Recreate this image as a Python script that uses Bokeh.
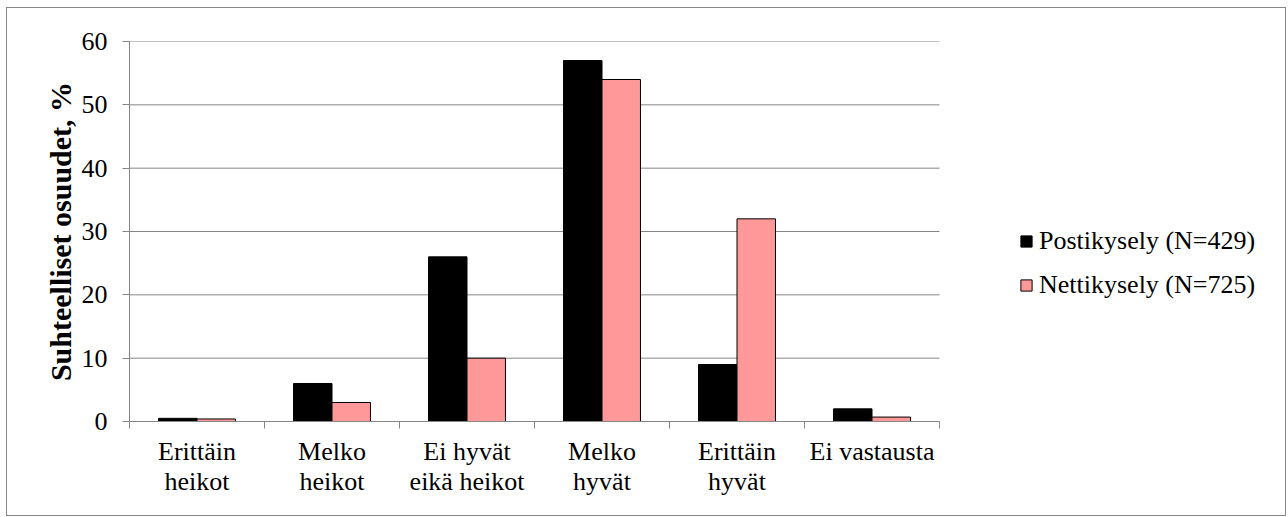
from bokeh.plotting import figure
from bokeh.models import FixedTicker, Range1d, Legend, LegendItem, ColumnDataSource
from bokeh.embed import file_html
from bokeh.resources import INLINE

categories = ["Erittäin\nheikot", "Melko\nheikot", "Ei hyvät\neikä heikot", "Melko\nhyvät", "Erittäin\nhyvät", "Ei vastausta"]
posti = [0.5, 6, 26, 57, 9, 2]
netti = [0.4, 3, 10, 54, 32, 0.7]
series_names = ["Postikysely (N=429)", "Nettikysely (N=725)"]
yticks = [0, 10, 20, 30, 40, 50, 60]

FONT = "Liberation Serif"
GRID = "#868686"

n = len(categories)
centers = [i + 0.5 for i in range(n)]
bw = 0.285

W, H = 1280, 509
LEFT, TOP, BOTTOM = 122, 33, 96
frame_w = W - LEFT
px_per_cat = 135.0
x_end = frame_w / px_per_cat

p = figure(width=W, height=H, output_backend="svg", toolbar_location=None,
           x_range=Range1d(0, x_end), y_range=Range1d(0, 60),
           min_border_left=LEFT, min_border_right=0, min_border_top=TOP, min_border_bottom=BOTTOM)
p.styles = {"border": "1px solid #888888", "margin-left": "6px", "margin-top": "7px"}
p.outline_line_color = None
p.background_fill_color = "white"
p.xgrid.grid_line_color = None
p.ygrid.grid_line_color = None

# horizontal gridlines limited to the category area
p.segment(x0=[0] * len(yticks), x1=[n] * len(yticks), y0=yticks, y1=yticks,
          line_color=GRID, line_width=1)

src1 = ColumnDataSource(dict(x=[c - bw / 2 for c in centers], top=posti))
src2 = ColumnDataSource(dict(x=[c + bw / 2 for c in centers], top=netti))
r1 = p.vbar(x="x", top="top", bottom=0, width=bw, source=src1, fill_color="black", line_color="black", line_width=1)
r2 = p.vbar(x="x", top="top", bottom=0, width=bw, source=src2, fill_color="#FF9999", line_color="black", line_width=1)

# x axis
xa = p.xaxis[0]
xa.bounds = (0, n)
xa.ticker = FixedTicker(ticks=centers, minor_ticks=list(range(n + 1)))
xa.major_label_overrides = {c: lab for c, lab in zip(centers, categories)}
xa.major_tick_line_color = None
xa.minor_tick_out = 7
xa.minor_tick_in = 0
xa.minor_tick_line_color = GRID
xa.axis_line_color = GRID
xa.major_label_text_font = FONT
xa.major_label_text_font_size = "26px"
xa.major_label_text_line_height = 1.05
xa.major_label_text_color = "black"
xa.major_label_standoff = 8

ya = p.yaxis[0]
ya.ticker = FixedTicker(ticks=yticks)
ya.minor_tick_line_color = None
ya.major_tick_out = 7
ya.major_tick_in = 0
ya.major_tick_line_color = GRID
ya.axis_line_color = GRID
ya.major_label_text_font = FONT
ya.major_label_text_font_size = "26px"
ya.major_label_text_color = "black"
ya.major_label_standoff = 15
ya.axis_label = "Suhteelliset osuudet, %"
ya.axis_label_text_font = FONT
ya.axis_label_text_font_style = "bold"
ya.axis_label_text_font_size = "30px"
ya.axis_label_text_color = "black"
ya.axis_label_standoff = 2

legend = Legend(items=[LegendItem(label=series_names[0], renderers=[r1]),
                       LegendItem(label=series_names[1], renderers=[r2])],
                location=(890, 121), orientation="vertical",
                glyph_width=14, glyph_height=14, label_height=20, spacing=14,
                padding=0, margin=0, label_standoff=6,
                label_text_font=FONT, label_text_font_size="26px", label_text_color="black",
                border_line_color=None, background_fill_alpha=0)
p.add_layout(legend, "center")

open("out.html", "w").write(file_html(p, INLINE))
